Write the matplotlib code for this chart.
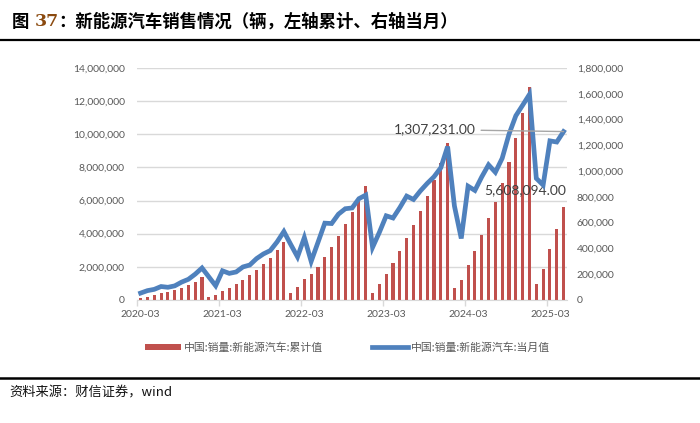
import numpy as np
import matplotlib
matplotlib.use("Agg")
import matplotlib.pyplot as plt
from matplotlib.ticker import FuncFormatter

plt.rcParams['font.family'] = ['Lato', 'Noto Sans CJK SC', 'DejaVu Sans']

# 数据：2020-03 ~ 2025-05，月度
months = (["2020-%02d" % m for m in range(3, 13)]
          + ["%d-%02d" % (y, m) for y in range(2021, 2025) for m in range(1, 13)]
          + ["2025-%02d" % m for m in range(1, 6)])

# 累计值（辆）
cum_2020 = [114000, 186000, 288000, 393000, 486000, 596000, 734000, 894000, 1100000, 1367000]
cum_2021 = [179000, 289000, 515000, 721000, 950000, 1206000, 1478000, 1799000, 2157000, 2541000, 2990000, 3521000]
cum_2022 = [431000, 765000, 1257000, 1556000, 2003000, 2600000, 3194000, 3860000, 4568000, 5282000, 6068000, 6887000]
cum_2023 = [408000, 933000, 1586000, 2222000, 2939000, 3745000, 4525000, 5371000, 6275000, 7231000, 8257000, 9495000]
cum_2024 = [729000, 1207000, 2090000, 2940000, 3895000, 4944000, 5935000, 7035000, 8320000, 9751000, 11263000, 12866000]
cum_2025 = [944000, 1840000, 3075000, 4300000, 5608094]
cumulative = cum_2020 + cum_2021 + cum_2022 + cum_2023 + cum_2024 + cum_2025

# 当月值（辆）
mon_2020 = [53000, 72000, 82000, 104000, 98000, 109000, 138000, 160000, 200000, 248000]
mon_2021 = [179000, 110000, 226000, 206000, 217000, 256000, 271000, 321000, 357000, 383000, 450000, 531000]
mon_2022 = [431000, 334000, 484000, 299000, 447000, 596000, 593000, 666000, 708000, 714000, 786000, 814000]
mon_2023 = [408000, 525000, 653000, 636000, 717000, 806000, 780000, 846000, 904000, 956000, 1026000, 1191000]
mon_2024 = [729000, 477000, 883000, 850000, 955000, 1049000, 991000, 1100000, 1287000, 1430000, 1512000, 1596000]
mon_2025 = [944000, 892000, 1235000, 1226000, 1307231]
monthly = mon_2020 + mon_2021 + mon_2022 + mon_2023 + mon_2024 + mon_2025

RED = '#C0504D'
BLUE = '#4F81BD'
GRID = '#D9D9D9'
TXT = '#595959'

fig = plt.figure(figsize=(7, 4.23), dpi=100)
ax = fig.add_axes([0.196, 0.291, 0.614, 0.548])
ax2 = ax.twinx()

x = np.arange(len(months))
ax.bar(x, cumulative, width=0.45, color=RED, zorder=2, label='中国:销量:新能源汽车:累计值')
ax2.plot(x, monthly, color=BLUE, lw=3.4, solid_joinstyle='miter', zorder=3,
         label='中国:销量:新能源汽车:当月值')

ax.set_xlim(-0.5, len(months) - 0.5)
ax.set_ylim(0, 14000000)
ax2.set_ylim(0, 1800000)
ax.set_yticks(np.arange(0, 14000001, 2000000))
ax2.set_yticks(np.arange(0, 1800001, 200000))
fmt = FuncFormatter(lambda v, p: f'{v:,.0f}')
ax.yaxis.set_major_formatter(fmt)
ax2.yaxis.set_major_formatter(fmt)
ax.grid(axis='y', color=GRID, lw=1, zorder=0)
ax.set_axisbelow(True)

tick_idx = list(range(0, len(months), 12))
ax.set_xticks(tick_idx)
ax.set_xticklabels([months[i] for i in tick_idx])
ax.set_xticks([i - 0.5 for i in tick_idx], minor=True)
ax.tick_params(axis='x', which='major', length=0, pad=7, labelsize=7.5, labelcolor=TXT)
ax.tick_params(axis='x', which='minor', length=4, color=GRID, width=1)
ax.tick_params(axis='y', length=0, pad=9, labelsize=7.5, labelcolor=TXT)
ax2.tick_params(axis='y', length=0, pad=7, labelsize=7.5, labelcolor=TXT)

for a in (ax, ax2):
    for s in ('top', 'left', 'right'):
        a.spines[s].set_visible(False)
    a.spines['bottom'].set_color(GRID)
ax2.spines['bottom'].set_visible(False)

# 数据标签
last = len(months) - 1
ax2.annotate(f'{monthly[-1]:,.2f}', xy=(last, monthly[-1]), xytext=(-88, 2),
             textcoords='offset pixels', ha='right', va='center', fontsize=10,
             color='#404040', arrowprops=dict(arrowstyle='-', color='#A6A6A6', lw=1,
                                              shrinkA=2, shrinkB=0))
ax.annotate(f'{cumulative[-1]:,.2f}', xy=(last, cumulative[-1]), xytext=(3, 17),
            textcoords='offset pixels', ha='right', va='center', fontsize=10,
            color='#404040')

# 图例
h1, l1 = ax.get_legend_handles_labels()
h2, l2 = ax2.get_legend_handles_labels()
fig.legend(h1 + h2, l1 + l2, loc='center', bbox_to_anchor=(0.497, 0.178), ncol=2,
           frameon=False, labelcolor=TXT, handlelength=3.3,
           handleheight=0.5, columnspacing=4.5, handletextpad=0.3,
           prop={'family': ['Noto Sans CJK SC'], 'size': 7.8})

# 标题与来源
fig.text(0.017, 0.948, '图 ', fontsize=12.5, fontweight='bold', family=['Noto Sans CJK SC'],
         va='center')
fig.text(0.05, 0.948, '37', fontsize=12.5, fontweight='bold', color='#8B4A0F',
         family=['DejaVu Serif'], va='center')
fig.text(0.083, 0.948, '：新能源汽车销售情况（辆，左轴累计、右轴当月）', fontsize=12.5,
         fontweight='bold', family=['Noto Sans CJK SC'], va='center')
fig.add_artist(plt.Line2D([0, 1], [0.905, 0.905], color='black', lw=1.6))
fig.add_artist(plt.Line2D([0, 1], [0.106, 0.106], color='black', lw=1.8))
fig.text(0.014, 0.07, '资料来源：财信证券，wind', fontsize=9.5, style='italic',
         family=['Noto Sans CJK SC', 'DejaVu Serif'], va='center', color='#111111')

fig.savefig('out.png', dpi=100)
